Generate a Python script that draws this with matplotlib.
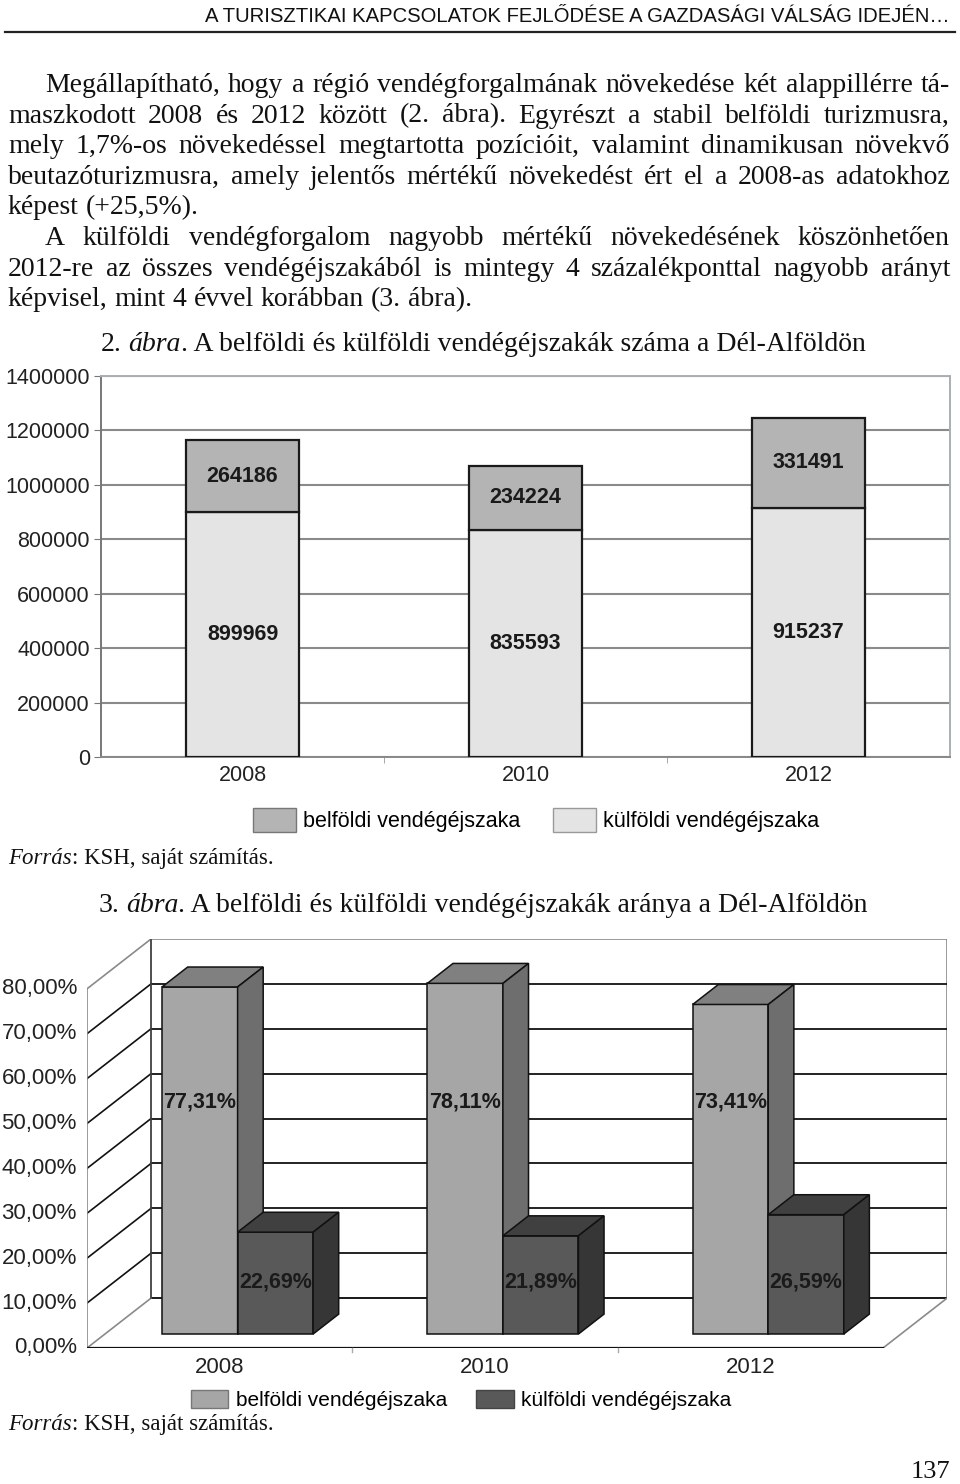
import numpy as np
import matplotlib
matplotlib.use('Agg')
import matplotlib.pyplot as plt
from matplotlib.patches import Polygon, Patch

# - Data -
years = ['2008', '2010', '2012']

# 2. ábra: stacked bars (lower segment light, upper segment darker, as printed)
lower_nights = [899969, 835593, 915237]
upper_nights = [264186, 234224, 331491]
nights_ticks = [0, 200000, 400000, 600000, 800000, 1000000, 1200000, 1400000]

# 3. ábra: shares in %
share_belfoldi = [77.31, 78.11, 73.41]
share_kulfoldi = [22.69, 21.89, 26.59]
share_ticks = [0, 10, 20, 30, 40, 50, 60, 70, 80]

legend_labels = ['belföldi vendégéjszaka', 'külföldi vendégéjszaka']

header = 'A TURISZTIKAI KAPCSOLATOK FEJLŐDÉSE A GAZDASÁGI VÁLSÁG IDEJÉN…'
body_lines = [
    'Megállapítható, hogy a régió vendégforgalmának növekedése két alappillérre tá-',
    'maszkodott 2008 és 2012 között (2. ábra). Egyrészt a stabil belföldi turizmusra,',
    'mely 1,7%-os növekedéssel megtartotta pozícióit, valamint dinamikusan növekvő',
    'beutazóturizmusra, amely jelentős mértékű növekedést ért el a 2008-as adatokhoz',
    'képest (+25,5%).',
    'A külföldi vendégforgalom nagyobb mértékű növekedésének köszönhetően',
    '2012-re az összes vendégéjszakából is mintegy 4 százalékponttal nagyobb arányt',
    'képvisel, mint 4 évvel korábban (3. ábra).',
]
body_indent = [True, False, False, False, False, True, False, False]
body_justify = [True, True, True, True, False, True, True, False]

SERIF = 'Liberation Serif'
SANS = 'Liberation Sans'

W, H = 960, 1484
fig = plt.figure(figsize=(W / 100, H / 100), dpi=100)
renderer = fig.canvas.get_renderer()


def fx(px):
    return px / W


def fy(py):
    return 1 - py / H


def width_of(t):
    return t.get_window_extent(renderer).width


def space_width(size, style='normal'):
    a = fig.text(0, 0, 'a a', fontsize=size, family=SERIF, style=style)
    b = fig.text(0, 0, 'aa', fontsize=size, family=SERIF, style=style)
    w = width_of(a) - width_of(b)
    a.remove()
    b.remove()
    return w


def put_parts(parts, x, y, size, ha='left'):
    # parts: list of (text, style, leading_space)
    sp = space_width(size)
    objs = [fig.text(0, fy(y), s, fontsize=size, family=SERIF, style=st, va='baseline', color='#111')
            for s, st, _ in parts]
    widths = [width_of(o) + (sp if lead else 0) for o, (_, _, lead) in zip(objs, parts)]
    if ha == 'center':
        x = x - sum(widths) / 2
    for o, w, (_, _, lead) in zip(objs, widths, parts):
        o.set_x(fx(x + (sp if lead else 0)))
        x += w


# - Header -
ht = fig.text(fx(950), fy(22), header, ha='right', va='baseline',
              family=['Liberation Sans Narrow', SANS], fontsize=14, color='#111')
ht.set_fontsize(14 * 745 / width_of(ht))
fig.add_artist(plt.Line2D([fx(5), fx(955)], [fy(32), fy(32)], color='#222', lw=1.6))

# - Body text, justified -
BODY_SIZE = 20
x_left, x_right = 8, 950
for i, line in enumerate(body_lines):
    y = 92 + i * 30.6
    x0 = 45 if body_indent[i] else x_left
    words = line.split()
    objs = [fig.text(0, fy(y), w, fontsize=BODY_SIZE, family=SERIF, va='baseline', color='#111')
            for w in words]
    widths = [width_of(o) for o in objs]
    if body_justify[i]:
        gap = (x_right - x0 - sum(widths)) / (len(words) - 1)
    else:
        gap = space_width(BODY_SIZE)
    x = x0
    for o, w in zip(objs, widths):
        o.set_x(fx(x))
        x += w + gap

# - Captions and sources -
put_parts([('2.', 'normal', False), ('ábra', 'italic', True),
           ('. A belföldi és külföldi vendégéjszakák száma a Dél-Alföldön', 'normal', False)],
          483, 351, BODY_SIZE, ha='center')
put_parts([('3.', 'normal', False), ('ábra', 'italic', True),
           ('. A belföldi és külföldi vendégéjszakák aránya a Dél-Alföldön', 'normal', False)],
          483, 912, BODY_SIZE, ha='center')
put_parts([('Forrás', 'italic', False), (': KSH, saját számítás.', 'normal', False)], 8, 864, 16.5)
put_parts([('Forrás', 'italic', False), (': KSH, saját számítás.', 'normal', False)], 8, 1430, 16.5)
fig.text(fx(950), fy(1478), '137', ha='right', va='baseline', family=SERIF, fontsize=19, color='#111')

# - 2. ábra: stacked bars -
ax1 = fig.add_axes([fx(101), fy(757), (950 - 101) / W, (757 - 376) / H])
xpos = np.arange(len(years))
low = ax1.bar(xpos, lower_nights, 0.4, color='#e4e4e4', edgecolor='#1a1a1a', linewidth=1.6, zorder=3)
up = ax1.bar(xpos, upper_nights, 0.4, bottom=lower_nights, color='#b4b4b4',
             edgecolor='#1a1a1a', linewidth=1.6, zorder=3)
for bars in (low, up):
    ax1.bar_label(bars, label_type='center', fmt='{:.0f}', fontsize=15.5, fontweight='bold',
                  family=SANS, color='#1a1a1a')
ax1.set_xlim(-0.5, 2.5)
ax1.set_ylim(0, 1400000)
ax1.set_yticks(nights_ticks, [str(t) for t in nights_ticks], family=SANS, fontsize=15.5, color='#222')
ax1.set_xticks(xpos, years, family=SANS, fontsize=15.5, color='#222')
ax1.set_xticks([0.5, 1.5], minor=True)
ax1.tick_params(axis='x', which='major', length=0, pad=6)
ax1.tick_params(axis='x', which='minor', length=4, color='#999')
ax1.tick_params(axis='y', length=5, color='#777', pad=3)
ax1.yaxis.grid(True, color='#8a8a8a', lw=1.5)
ax1.set_axisbelow(True)
for side, col in [('top', '#a8b0b4'), ('right', '#a8b0b4'), ('left', '#777777'), ('bottom', '#888888')]:
    ax1.spines[side].set_color(col)
    ax1.spines[side].set_linewidth(1.4)

fig.legend([Patch(fc='#b4b4b4', ec='#777777'), Patch(fc='#e4e4e4', ec='#999999')], legend_labels,
           ncol=2, loc='center', bbox_to_anchor=(fx(536), fy(820)), frameon=False,
           prop={'family': SANS, 'size': 15.5}, handlelength=2.0, handleheight=1.35,
           handletextpad=0.35, columnspacing=1.5)

# - 3. ábra: pseudo 3D bars -
DX, DY = 0.2412, 11.1      # depth of the floor in data units
D0, D1 = 0.28, 0.40        # bar front position and bar depth as share of floor depth
BW = 0.2846                 # width of one bar
n = len(years)
ax2 = fig.add_axes([fx(87), fy(1348), (947 - 87) / W, (1348 - 939) / H])
ax2.set_xlim(0, n + DX)
ax2.set_ylim(0, share_ticks[-1] + DY)
ax2.axis('off')

top = share_ticks[-1]
ax2.add_patch(Polygon([(DX, DY), (n + DX, DY), (n + DX, top + DY), (DX, top + DY)],
                      closed=True, fc='white', ec='#8a8a8a', lw=1.2, zorder=1))
for t in share_ticks:
    edge = t in (share_ticks[0], share_ticks[-1])
    col = '#8a8a8a' if edge else '#111111'
    if t != top:
        ax2.plot([DX, n + DX], [t + DY, t + DY], color='#111111', lw=1.3, zorder=2)
    ax2.plot([0, DX], [t, t + DY], color=col, lw=1.2, zorder=2)
    ax2.text(-0.038, t, f'{t:.2f}%'.replace('.', ','), ha='right', va='center',
             family=SANS, fontsize=16, color='#222')
ax2.plot([DX, DX], [DY, top + DY], color='#444', lw=1.2, zorder=2)
ax2.plot([0, 0], [0, top], color='#8a8a8a', lw=1.2, zorder=2)
ax2.plot([n, n + DX], [0, DY], color='#8a8a8a', lw=1.2, zorder=2)
ax2.plot([0, n], [0, 0], color='#111111', lw=1.6, zorder=2)
for k in range(1, n):
    ax2.plot([k, k], [0, -0.8], color='#aaaaaa', lw=1, clip_on=False)

series = [share_belfoldi, share_kulfoldi]
faces = [('#a6a6a6', '#808080', '#6e6e6e'), ('#595959', '#404040', '#363636')]
label_y = [54.7, 14.7]
for i in range(n):
    for s, vals in enumerate(series):
        v = vals[i]
        front, topc, side = faces[s]
        xl = i + 0.5 - BW + s * BW + D0 * DX
        yb = D0 * DY
        yt = yb + v
        ddx, ddy = D1 * DX, D1 * DY
        ax2.add_patch(Polygon([(xl, yb), (xl + BW, yb), (xl + BW, yt), (xl, yt)],
                              fc=front, ec='#111', lw=1.1, zorder=3 + s))
        ax2.add_patch(Polygon([(xl, yt), (xl + BW, yt), (xl + BW + ddx, yt + ddy), (xl + ddx, yt + ddy)],
                              fc=topc, ec='#111', lw=1.1, zorder=3 + s))
        ax2.add_patch(Polygon([(xl + BW, yb), (xl + BW + ddx, yb + ddy), (xl + BW + ddx, yt + ddy),
                               (xl + BW, yt)], fc=side, ec='#111', lw=1.1, zorder=3 + s))
        ax2.text(xl + BW / 2, label_y[s], f'{v:.2f}%'.replace('.', ','), ha='center', va='center',
                 family=SANS, fontsize=15.5, fontweight='bold', color='#1a1a1a', zorder=6)
    ax2.text(i + 0.5, -4.3, years[i], ha='center', va='center', family=SANS, fontsize=16,
             color='#222', clip_on=False)

fig.legend([Patch(fc='#a6a6a6', ec='#777777'), Patch(fc='#595959', ec='#444444')], legend_labels,
           ncol=2, loc='center', bbox_to_anchor=(fx(461), fy(1400)), frameon=False,
           prop={'family': SANS, 'size': 15}, handlelength=1.8, handleheight=1.0,
           handletextpad=0.35, columnspacing=1.4)

fig.savefig('out.png', dpi=100, facecolor='white')
